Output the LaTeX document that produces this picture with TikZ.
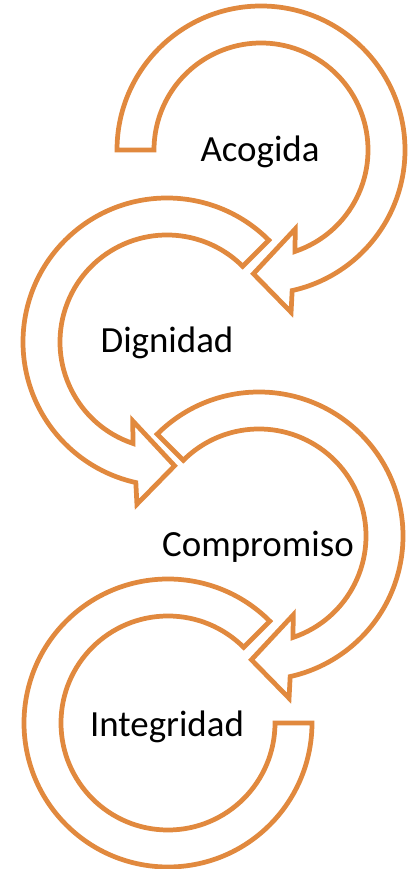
\documentclass[tikz,border=0pt]{standalone}
\usepackage{fontspec}
\setmainfont{Carlito}
\definecolor{naranja}{RGB}{225,137,62}
\begin{document}
\begin{tikzpicture}[x=0.02cm,y=0.02cm,
	flecha/.style={draw=naranja,line width=2.7pt,fill=white,line join=miter},
	texto/.style={font=\fontsize{21}{25}\selectfont}]
	\useasboundingbox (0,0) rectangle (413,869);

	% first arrow, clockwise
	\begin{scope}[shift={(261,719)}]
	\draw [flecha] (180:144) arc [start angle=180,end angle=-77.5,radius=144]
	-- (-79.5:165) -- (-93.5:124) -- (-66.5:86) -- (-71.5:107)
	arc [start angle=-71.5,end angle=180,radius=107] -- cycle;
	\end{scope}

	% second arrow, counterclockwise
	\begin{scope}[shift={(167,527)}]
	\draw [flecha] (45:144) arc [start angle=45,end angle=257.5,radius=144]
	-- (259.5:165) -- (273.5:124) -- (246.5:86) -- (251.5:107)
	arc [start angle=251.5,end angle=45,radius=107] -- cycle;
	\end{scope}

	% third arrow, clockwise
	\begin{scope}[shift={(259,333)}]
	\draw [flecha] (135:144) arc [start angle=135,end angle=-77.5,radius=144]
	-- (-79.5:165) -- (-93.5:124) -- (-66.5:86) -- (-71.5:107)
	arc [start angle=-71.5,end angle=135,radius=107] -- cycle;
	\end{scope}

	% last one, no head
	\begin{scope}[shift={(168,146)}]
	\draw [flecha] (45:144) arc [start angle=45,end angle=360,radius=144]
	-- (0:107) arc [start angle=360,end angle=45,radius=107] -- cycle;
	\end{scope}

	\node [texto] (acogida) at (260,717) {Acogida};
	\node [texto] (dignidad) at (167,526) {Dignidad};
	\node [texto] (compromiso) at (258,322) {Compromiso};
	\node [texto] (integridad) at (167,142) {Integridad};
\end{tikzpicture}
\end{document}
